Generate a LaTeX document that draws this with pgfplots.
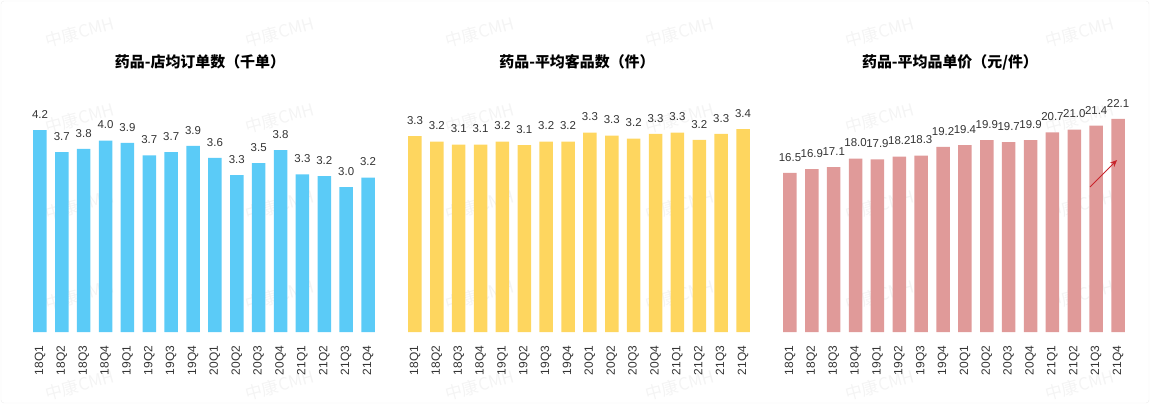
\documentclass[border=0pt]{standalone}
\usepackage{fontspec}
\setmainfont{Liberation Sans}
\newfontfamily\cjk{Noto Sans CJK SC}
\usepackage{pgfplots}
\pgfplotsset{compat=1.18}
\usetikzlibrary{arrows.meta}

\definecolor{barblue}{HTML}{5BCBF7}
\definecolor{baryellow}{HTML}{FED65F}
\definecolor{barpink}{HTML}{E09A99}
\definecolor{lbl}{HTML}{333333}
\definecolor{arrowred}{HTML}{C8242B}

\pgfplotsset{
  panel/.style={
    scale only axis,
    width=371.8bp, height=232bp,
    anchor=south west,
    xmin=-1, xmax=16, ymin=0,
    ybar, bar width=13.5bp,
    axis line style={draw=none},
    major tick style={draw=none},
    ytick=\empty,
    xtick={0,...,15},
    xticklabels={18Q1,18Q2,18Q3,18Q4,19Q1,19Q2,19Q3,19Q4,20Q1,20Q2,20Q3,20Q4,21Q1,21Q2,21Q3,21Q4},
    xticklabel style={rotate=90, anchor=east, font=\fontsize{12}{13}\selectfont, text=lbl},
    xticklabel shift=6bp,
    nodes near coords,
    every node near coord/.append style={font=\fontsize{11.5}{12}\selectfont, text=lbl, yshift=8bp},
    /pgf/number format/.cd, fixed, fixed zerofill, precision=1, assume math mode=true,
    /pgfplots/.cd,
    clip=false,
  },
}

\begin{document}
\begin{tikzpicture}[x=1bp, y=1bp]
  \path (0,0) rectangle (1150,404);
  \draw[gray!15, rounded corners=3bp] (1,1) rectangle (1149,403);

  % watermark
  \foreach \wx in {80,280,480,680,880,1080}
    \foreach \wy in {372,286,199,109,19}
      \node[rotate=15, text=gray!9, font=\cjk\fontsize{17}{18}\selectfont] at (\wx,\wy) {中康CMH};

  % panel 1
  \begin{axis}[panel, at={(18.1bp,72bp)}, ymax=4.824]
    \addplot[fill=barblue, draw=none] coordinates {
      (0,4.20) (1,3.74) (2,3.81) (3,3.98) (4,3.93) (5,3.67) (6,3.74) (7,3.87)
      (8,3.62) (9,3.26) (10,3.51) (11,3.78) (12,3.28) (13,3.24) (14,3.01) (15,3.21)
    };
  \end{axis}

  % panel 2
  \begin{axis}[panel, at={(393.1bp,72bp)}, ymax=3.886]
    \addplot[fill=baryellow, draw=none] coordinates {
      (0,3.28) (1,3.19) (2,3.14) (3,3.14) (4,3.19) (5,3.13) (6,3.19) (7,3.19)
      (8,3.34) (9,3.29) (10,3.24) (11,3.32) (12,3.34) (13,3.22) (14,3.32) (15,3.40)
    };
  \end{axis}

  % panel 3
  \begin{axis}[panel, at={(768.1bp,72bp)}, ymax=24.07]
    \addplot[fill=barpink, draw=none] coordinates {
      (0,16.5) (1,16.9) (2,17.1) (3,18.0) (4,17.9) (5,18.2) (6,18.3) (7,19.2)
      (8,19.4) (9,19.9) (10,19.7) (11,19.9) (12,20.7) (13,21.0) (14,21.4) (15,22.1)
    };
  \end{axis}

  % titles
  \node[font=\cjk\bfseries\fontsize{15}{16}\selectfont] at (200,342) {药品-店均订单数（千单）};
  \node[font=\cjk\bfseries\fontsize{15}{16}\selectfont] at (577,342) {药品-平均客品数（件）};
  \node[font=\cjk\bfseries\fontsize{15}{16}\selectfont] at (950,342) {药品-平均品单价（元/件）};

  % trend arrow
  \draw[arrowred, line width=1bp, -{Stealth[length=7bp, width=6bp]}] (1090,217) -- (1117,244);
\end{tikzpicture}
\end{document}
